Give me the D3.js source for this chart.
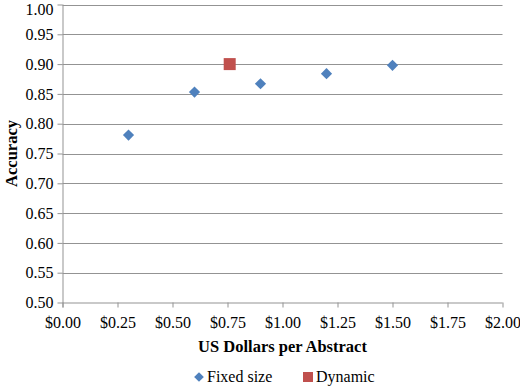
<!DOCTYPE html>
<html lang="en">
<head>
	<meta charset="UTF-8">
	<title>Accuracy vs cost</title>
	<script src="https://cdn.jsdelivr.net/npm/d3@7/dist/d3.min.js"></script>
	<style>
		body { margin: 0; background: #fff; }
		text { font-family: "Liberation Serif", serif; fill: #000; }
	</style>
</head>
<body>
	<svg width="520" height="386"></svg>
	<script>
		// data
		var fixedCost = [0.30, 0.60, 0.90, 1.20, 1.50];
		var fixedAcc = [0.781, 0.853, 0.867, 0.884, 0.898];
		var dynamicCost = [0.76];
		var dynamicAcc = [0.90];
		var xTicks = [0, 0.25, 0.5, 0.75, 1, 1.25, 1.5, 1.75, 2];
		var yTicks = [0.5, 0.55, 0.6, 0.65, 0.7, 0.75, 0.8, 0.85, 0.9, 0.95, 1.0];

		var svg = d3.select("svg");
		var x = d3.scaleLinear().domain([0, 2]).range([62.5, 502.5]);
		var y = d3.scaleLinear().domain([0.5, 1]).range([302.5, 4.5]);

		// gridlines
		svg.append("g").selectAll("line").data(yTicks.slice(1)).enter().append("line")
			.attr("x1", x(0)).attr("x2", x(2))
			.attr("y1", function(d) { return Math.round(y(d)) + 0.5; })
			.attr("y2", function(d) { return Math.round(y(d)) + 0.5; })
			.style("stroke", "#939393").style("stroke-width", 1);

		// y axis
		var yAxis = d3.axisLeft(y).tickValues(yTicks).tickSize(5).tickPadding(4)
			.tickFormat(d3.format(".2f"));
		var gy = svg.append("g").attr("transform", "translate(" + x(0) + ",0)").call(yAxis);
		gy.selectAll("path, line").style("stroke", "#939393");
		// top label sits a little low so it is not clipped by the page edge
		gy.selectAll("text").style("font-size", "16px").attr("font-family", null)
			.attr("dy", function(d) { return d === 1 ? "0.65em" : "0.32em"; });

		// x axis
		var xAxis = d3.axisBottom(x).tickValues(xTicks).tickSize(5).tickPadding(9)
			.tickFormat(function(d) { return "$" + d3.format(".2f")(d); });
		var gx = svg.append("g").attr("transform", "translate(0," + y(0.5) + ")").call(xAxis);
		gx.selectAll("path, line").style("stroke", "#939393");
		gx.selectAll("text").style("font-size", "16px").attr("font-family", null);
		gy.select(".domain").attr("d", "M0.5," + (y(0.5) + 5) + "V" + y(1));
		gx.select(".domain").attr("d", "M" + x(0) + ",0.5H" + x(2));

		// axis titles
		svg.append("text").attr("x", x(1)).attr("y", 352)
			.attr("text-anchor", "middle").style("font-weight", "bold").style("font-size", "16.5px")
			.text("US Dollars per Abstract");
		svg.append("text").attr("transform", "translate(17," + y(0.75) + ") rotate(-90)")
			.attr("text-anchor", "middle").style("font-weight", "bold").style("font-size", "16.5px")
			.text("Accuracy");

		// points
		var diamond = d3.symbol().type(d3.symbolDiamond2).size(80);
		svg.append("g").selectAll("path").data(fixedCost).enter().append("path")
			.attr("d", diamond)
			.attr("transform", function(d, i) { return "translate(" + x(d) + "," + y(fixedAcc[i]) + ")"; })
			.style("fill", "#4f81bd");
		svg.append("g").selectAll("rect").data(dynamicCost).enter().append("rect")
			.attr("x", function(d) { return x(d) - 6; })
			.attr("y", function(d, i) { return y(dynamicAcc[i]) - 6; })
			.attr("width", 12).attr("height", 12)
			.style("fill", "#c0504d");

		// legend
		var leg = svg.append("g").attr("transform", "translate(0,377)");
		leg.append("path").attr("d", d3.symbol().type(d3.symbolDiamond2).size(60))
			.attr("transform", "translate(199,0)").style("fill", "#4f81bd");
		leg.append("text").attr("x", 207).attr("y", 5).style("font-size", "16px").text("Fixed size");
		leg.append("rect").attr("x", 303).attr("y", -5).attr("width", 10).attr("height", 10)
			.style("fill", "#c0504d");
		leg.append("text").attr("x", 316).attr("y", 5).style("font-size", "16px").text("Dynamic");
	</script>
</body>
</html>
